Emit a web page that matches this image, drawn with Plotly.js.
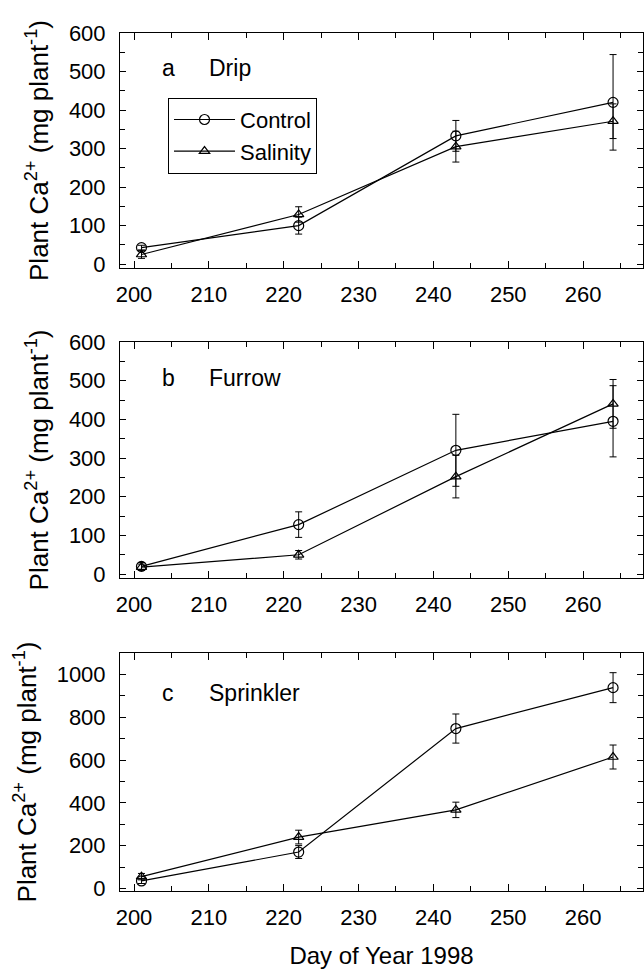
<!DOCTYPE html>
<html>
<head>
<meta charset="utf-8">
<script src="https://cdn.plot.ly/plotly-3.0.1.min.js"></script>
<style>
  html, body { margin: 0; padding: 0; background: #ffffff; }
  #chart { width: 644px; height: 969px; }
</style>
</head>
<body>
<div id="chart"></div>
<script>
// Sampling dates (day of year, 1998)
const days = [201, 222, 243, 264];

// Plant Ca2+ (mg plant-1), means and standard errors
const dripControl = [43, 100, 333, 420];
const dripControlErr = [6, 22, 40, 124];
const dripSalinity = [25, 129, 305, 371];
const dripSalinityErr = [10, 20, 40, 45];

const furrowControl = [20, 128, 320, 395];
const furrowControlErr = [10, 33, 93, 92];
const furrowSalinity = [18, 50, 252, 440];
const furrowSalinityErr = [8, 11, 55, 63];

const sprinklerControl = [35, 170, 747, 938];
const sprinklerControlErr = [12, 30, 68, 70];
const sprinklerSalinity = [55, 240, 367, 614];
const sprinklerSalinityErr = [15, 32, 36, 56];

const panelLetters = ['a', 'b', 'c'];
const panelNames = ['Drip', 'Furrow', 'Sprinkler'];
const seriesNames = ['Control', 'Salinity'];
const yTitle = 'Plant Ca<sup>2+</sup> (mg plant<sup>-1</sup>)';
const xTitle = 'Day of Year 1998';

const panels = [
  { c: dripControl, ce: dripControlErr, s: dripSalinity, se: dripSalinityErr },
  { c: furrowControl, ce: furrowControlErr, s: furrowSalinity, se: furrowSalinityErr },
  { c: sprinklerControl, ce: sprinklerControlErr, s: sprinklerSalinity, se: sprinklerSalinityErr }
];

const FONT = 'Liberation Sans, Arial, Helvetica, sans-serif';
const INK = '#000000';

const traces = [];
panels.forEach((p, i) => {
  const xa = i === 0 ? 'x' : 'x' + (i + 1);
  const ya = i === 0 ? 'y' : 'y' + (i + 1);
  const common = {
    x: days, xaxis: xa, yaxis: ya, type: 'scatter', mode: 'lines+markers',
    line: { color: INK, width: 1.2 },
    showlegend: i === 0, cliponaxis: false
  };
  traces.push(Object.assign({}, common, {
    name: seriesNames[0], y: p.c,
    marker: { symbol: 'circle-open', size: 10, color: INK, line: { color: INK, width: 1.2 } },
    error_y: { type: 'data', array: p.ce, visible: true, color: INK, thickness: 1, width: 3.5 }
  }));
  traces.push(Object.assign({}, common, {
    name: seriesNames[1], y: p.s,
    marker: { symbol: 'triangle-up-open', size: 9, color: INK, line: { color: INK, width: 1.2 } },
    error_y: { type: 'data', array: p.se, visible: true, color: INK, thickness: 1, width: 3.5 }
  }));
});

function xAxis(anchor, withTitle) {
  const ax = {
    anchor: anchor, domain: [0, 1], range: [198.13, 268.0],
    tickvals: [200, 210, 220, 230, 240, 250, 260],
    ticks: 'inside', ticklen: 7, tickwidth: 1, tickcolor: INK,
    minor: { tickvals: [205, 215, 225, 235, 245, 255, 265], ticks: 'inside', ticklen: 5, tickwidth: 1, tickcolor: INK },
    showline: true, linecolor: INK, linewidth: 1, mirror: 'ticks',
    showgrid: false, zeroline: false,
    tickfont: { family: FONT, size: 22, color: INK },
    ticklabelstandoff: 7
  };
  if (withTitle) {
    ax.title = { text: xTitle, font: { family: FONT, size: 24, color: INK }, standoff: 22 };
  }
  return ax;
}

function yAxis(anchor, domain, range, dtick, minorStep) {
  return {
    anchor: anchor, domain: domain, range: range,
    tick0: 0, dtick: dtick,
    ticks: 'inside', ticklen: 6, tickwidth: 1, tickcolor: INK,
    minor: { dtick: minorStep, tick0: 0, ticks: 'inside', ticklen: 5, tickwidth: 1, tickcolor: INK },
    showline: true, linecolor: INK, linewidth: 1, mirror: 'ticks',
    showgrid: false, zeroline: false,
    tickfont: { family: FONT, size: 22, color: INK },
    ticklabelstandoff: 9,
    title: { text: yTitle, font: { family: FONT, size: 26, color: INK }, standoff: 12 }
  };
}

const annotations = [];
const labelY = [510, 508, 915];
panelLetters.forEach((letter, i) => {
  const xr = i === 0 ? 'x' : 'x' + (i + 1);
  const yr = i === 0 ? 'y' : 'y' + (i + 1);
  annotations.push({ xref: xr, yref: yr, x: 204.6, y: labelY[i], text: letter, showarrow: false,
    xanchor: 'center', yanchor: 'middle', font: { family: FONT, size: 23, color: INK } });
  annotations.push({ xref: xr, yref: yr, x: 209.7, y: labelY[i], text: panelNames[i], showarrow: false,
    xanchor: 'left', yanchor: 'middle', font: { family: FONT, size: 23, color: INK } });
});

const layout = {
  width: 644, height: 969,
  margin: { l: 120, r: 1, t: 33, b: 78 },
  paper_bgcolor: '#ffffff', plot_bgcolor: '#ffffff',
  font: { family: FONT, color: INK },
  showlegend: true,
  legend: {
    x: 0.0918, y: 0.9246, xanchor: 'left', yanchor: 'top',
    bgcolor: '#ffffff', bordercolor: INK, borderwidth: 1,
    font: { family: FONT, size: 22, color: INK },
    itemwidth: 61, tracegroupgap: 0
  },
  xaxis: xAxis('y', false),
  xaxis2: xAxis('y2', false),
  xaxis3: xAxis('y3', true),
  yaxis: yAxis('x', [0.7261, 1], [-10, 600], 100, 50),
  yaxis2: yAxis('x2', [0.3648, 0.6399], [-10, 600], 100, 50),
  yaxis3: yAxis('x3', [0, 0.2774], [-12, 1100], 200, 100),
  annotations: annotations
};

Plotly.newPlot('chart', traces, layout, { displayModeBar: false, staticPlot: true });
</script>
</body>
</html>
